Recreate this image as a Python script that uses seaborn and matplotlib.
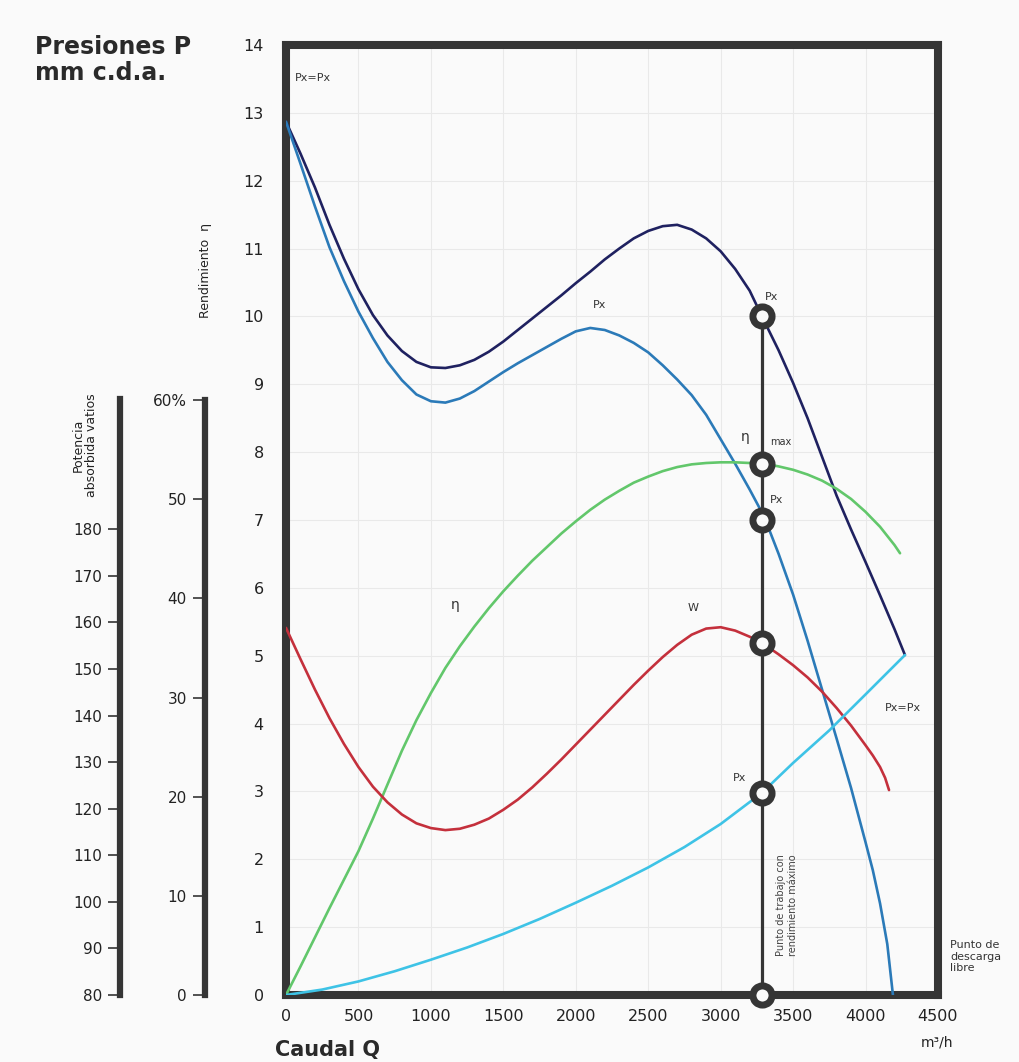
import pandas as pd
import seaborn as sns
import matplotlib.pyplot as plt

# curve readings (caudal m3/h -> presion mm c.d.a.)
q_total = [0, 100, 200, 300, 400, 500, 600, 700, 800, 900, 1000, 1100, 1200, 1300,
           1400, 1500, 1600, 1700, 1800, 1900, 2000, 2100, 2200, 2300, 2400, 2500,
           2600, 2700, 2800, 2900, 3000, 3100, 3200, 3285, 3400, 3500, 3600, 3700,
           3800, 3900, 4000, 4100, 4200, 4272]
p_total = [12.87, 12.40, 11.90, 11.35, 10.85, 10.40, 10.02, 9.72, 9.49, 9.33, 9.25,
           9.24, 9.28, 9.36, 9.48, 9.63, 9.80, 9.97, 10.14, 10.31, 10.49, 10.66, 10.84,
           11.00, 11.15, 11.26, 11.33, 11.35, 11.28, 11.15, 10.96, 10.70, 10.38, 10.0,
           9.50, 9.02, 8.50, 7.93, 7.36, 6.86, 6.38, 5.89, 5.39, 5.01]

q_static = [0, 100, 200, 300, 400, 500, 600, 700, 800, 900, 1000, 1100, 1200, 1300,
            1400, 1500, 1600, 1700, 1800, 1900, 2000, 2100, 2200, 2300, 2400, 2500,
            2600, 2700, 2800, 2900, 3000, 3100, 3200, 3300, 3400, 3500, 3600, 3700,
            3800, 3900, 3950, 4000, 4050, 4100, 4150, 4189]
p_static = [12.87, 12.25, 11.62, 11.02, 10.52, 10.07, 9.68, 9.33, 9.06, 8.85, 8.75,
            8.73, 8.79, 8.90, 9.04, 9.18, 9.31, 9.43, 9.55, 9.67, 9.78, 9.83, 9.80,
            9.72, 9.61, 9.47, 9.28, 9.07, 8.84, 8.55, 8.19, 7.83, 7.45, 7.05, 6.50,
            5.90, 5.22, 4.50, 3.78, 3.05, 2.65, 2.25, 1.84, 1.35, 0.75, 0.0]

q_eta = [0, 100, 200, 300, 400, 500, 600, 700, 800, 900, 1000, 1100, 1200, 1300,
         1400, 1500, 1600, 1700, 1800, 1900, 2000, 2100, 2200, 2300, 2400, 2500,
         2600, 2700, 2800, 2900, 3000, 3100, 3200, 3300, 3400, 3500, 3600, 3700,
         3800, 3900, 4000, 4100, 4200, 4238]
p_eta = [0.0, 0.42, 0.85, 1.28, 1.70, 2.12, 2.60, 3.10, 3.60, 4.05, 4.45, 4.82, 5.14,
         5.43, 5.70, 5.95, 6.18, 6.40, 6.60, 6.80, 6.98, 7.15, 7.30, 7.43, 7.55, 7.64,
         7.72, 7.78, 7.82, 7.84, 7.85, 7.85, 7.84, 7.83, 7.79, 7.74, 7.67, 7.58, 7.46,
         7.31, 7.12, 6.90, 6.63, 6.51]

q_w = [0, 100, 200, 300, 400, 500, 600, 700, 800, 900, 1000, 1100, 1200, 1300, 1400,
       1500, 1600, 1700, 1800, 1900, 2000, 2100, 2200, 2300, 2400, 2500, 2600, 2700,
       2800, 2900, 3000, 3100, 3200, 3285, 3400, 3500, 3600, 3700, 3800, 3900, 4000,
       4050, 4100, 4135, 4162]
p_w = [5.41, 4.95, 4.50, 4.08, 3.70, 3.36, 3.07, 2.84, 2.66, 2.53, 2.46, 2.43, 2.45,
       2.51, 2.60, 2.73, 2.88, 3.06, 3.26, 3.47, 3.69, 3.91, 4.13, 4.35, 4.57, 4.78,
       4.98, 5.16, 5.31, 5.40, 5.42, 5.37, 5.28, 5.19, 5.02, 4.86, 4.68, 4.47, 4.23,
       3.97, 3.68, 3.53, 3.36, 3.20, 3.02]

q_dyn = [0, 250, 500, 750, 1000, 1250, 1500, 1750, 2000, 2250, 2500, 2750, 3000,
         3285, 3500, 3750, 4000, 4272]
p_dyn = [0.0, 0.08, 0.20, 0.35, 0.52, 0.70, 0.90, 1.12, 1.36, 1.61, 1.88, 2.18, 2.52,
         2.98, 3.42, 3.90, 4.43, 5.01]

q_work = 3285
p_points = [10.0, 7.83, 7.0, 5.19, 2.98, 0.0]

eta_ticks = [0, 10, 20, 30, 40, 50, 60]
eta_labels = ["0", "10", "20", "30", "40", "50", "60%"]
watt_ticks = [80, 90, 100, 110, 120, 130, 140, 150, 160, 170, 180]

sns.set_theme(style="white")
plt.rcParams['font.family'] = ['DejaVu Sans']

W, H = 1019, 1062
fig = plt.figure(figsize=(W / 100, H / 100), dpi=100, facecolor='#fafafa')

def fx(px):
    return px / W

def fy(py):
    return 1 - py / H

left, right, top, bottom = 286, 938, 45, 995
ax = fig.add_axes([fx(left), fy(bottom), (right - left) / W, (bottom - top) / H])
ax.set_facecolor('#fafafa')

frame = '#353535'
for s in ax.spines.values():
    s.set_color(frame)
    s.set_linewidth(5.8)
    s.set_capstyle('projecting')

ax.set_xlim(0, 4500)
ax.set_ylim(0, 14)
ax.set_xticks(range(0, 4501, 500))
ax.set_yticks(range(0, 15))
ax.tick_params(axis='both', length=0, labelsize=11.5, colors='#222222')
ax.tick_params(axis='y', pad=16)
ax.tick_params(axis='x', pad=10)
ax.grid(True, color='#e9e9e9', linewidth=0.8)

curves = [
    (q_total, p_total, '#1f2160'),
    (q_static, p_static, '#2b7ab8'),
    (q_eta, p_eta, '#62c76b'),
    (q_w, p_w, '#c4303c'),
    (q_dyn, p_dyn, '#3ec3e6'),
]
for q, p, c in curves:
    df = pd.DataFrame({'q': q, 'p': p})
    sns.lineplot(data=df, x='q', y='p', color=c, linewidth=1.9, ax=ax, zorder=3)

ax.plot([q_work, q_work], [0, max(p_points)], color=frame, linewidth=2.3, zorder=4)
pts = pd.DataFrame({'q': [q_work] * len(p_points), 'p': p_points})
sns.scatterplot(data=pts, x='q', y='p', s=190, color='#fafafa', edgecolor=frame,
                linewidth=5, ax=ax, zorder=5, clip_on=False)
ax.set_xlabel('')
ax.set_ylabel('')

# labels inside the chart
small = dict(fontsize=8, color='#333333')
ax.text(62, 13.51, 'Px=Px', ha='left', va='center', **small)
ax.text(2167, 10.17, 'Px', ha='center', va='center', **small)
ax.text(3306, 10.29, 'Px', ha='left', va='center', **small)
ax.text(3168, 8.22, 'η', ha='center', va='center', fontsize=10, color='#333333')
ax.text(3340, 8.15, 'max', ha='left', va='center', fontsize=7, color='#333333')
ax.text(3340, 7.29, 'Px', ha='left', va='center', **small)
ax.text(1166, 5.75, 'η', ha='center', va='center', fontsize=10, color='#333333')
ax.text(2809, 5.70, 'W', ha='center', va='center', **small)
ax.text(3133, 3.20, 'Px', ha='center', va='center', **small)
ax.text(4258, 4.23, 'Px=Px', ha='center', va='center', **small)
ax.text(3458, 1.33, 'Punto de trabajo con\nrendimiento máximo', rotation=90,
        ha='center', va='center', fontsize=7, color='#444444', linespacing=1.3)

# extra scales on the left
def side_scale(xpx, lim, bound, ticks, labels):
    a = fig.add_axes([fx(xpx), fy(bottom), 0.0001, (bottom - top) / H])
    a.patch.set_visible(False)
    for k in ['top', 'bottom', 'right']:
        a.spines[k].set_visible(False)
    a.spines['left'].set_color(frame)
    a.spines['left'].set_linewidth(4.5)
    a.spines['left'].set_bounds(*bound)
    a.spines['left'].set_capstyle('projecting')
    a.set_ylim(*lim)
    a.set_xticks([])
    a.set_yticks(ticks)
    a.set_yticklabels(labels)
    a.tick_params(axis='y', left=True, direction='out', length=9, width=1.2,
                  color=frame, labelsize=11, labelcolor='#222222', pad=4)
    return a

side_scale(205, (0, 95.8), (0, 60), eta_ticks, eta_labels)
side_scale(120, (80, 284), (80, 208), watt_ticks, [str(t) for t in watt_ticks])

fig.text(fx(35), fy(35), 'Presiones P\nmm c.d.a.', ha='left', va='top', fontsize=17,
         fontweight='bold', color='#2a2a2a', linespacing=1.1)
fig.text(fx(275), fy(1050), 'Caudal Q', ha='left', va='center', fontsize=15,
         fontweight='bold', color='#2a2a2a')
fig.text(fx(937), fy(1042), 'm³/h', ha='center', va='center', fontsize=10, color='#222222')
fig.text(fx(950), fy(940), 'Punto de\ndescarga\nlibre', ha='left', va='top', fontsize=8,
         color='#333333', linespacing=1.2)
fig.text(fx(205), fy(270), 'Rendimiento  η', rotation=90, ha='center', va='center',
         fontsize=9, color='#222222')
fig.text(fx(85), fy(445), 'Potencia\nabsorbida vatios', rotation=90, ha='center', va='center',
         fontsize=9, color='#222222', linespacing=1.0)

plt.savefig('out.png', dpi=100, facecolor=fig.get_facecolor())
